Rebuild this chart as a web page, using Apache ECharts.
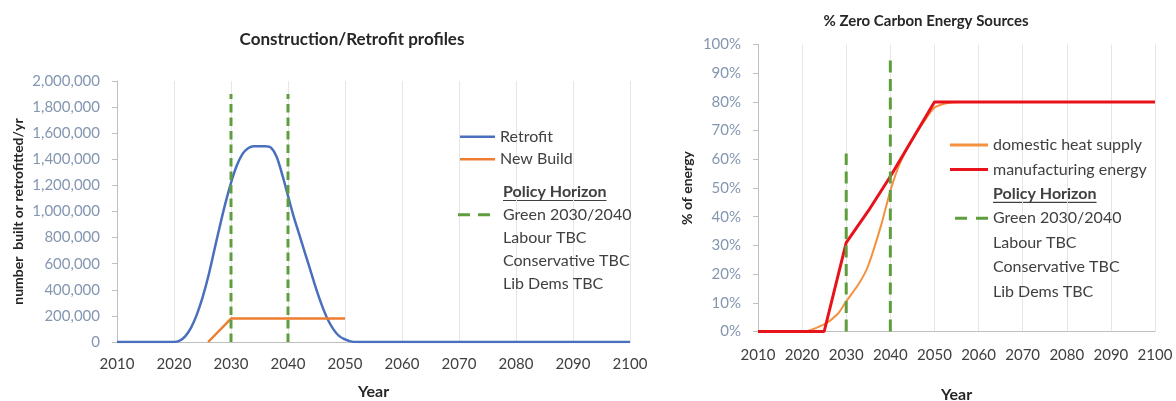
<!DOCTYPE html>
<html>
<head>
<meta charset="utf-8">
<script src="https://cdn.jsdelivr.net/npm/echarts@6/dist/echarts.min.js"></script>
<style>
html,body{margin:0;padding:0;background:#fff;}
#c{width:1176px;height:401px;}
</style>
</head>
<body>
<div id="c"></div>
<script>
// ---------- Left chart data: Construction/Retrofit profiles ----------
const leftTitle = 'Construction/Retrofit profiles';
const leftYName = 'number  built or retrofitted/yr';
const xName = 'Year';
const retrofitYears = [2010, 2020, 2021, 2022, 2023, 2024, 2025, 2026, 2027, 2028, 2029, 2030, 2031, 2032, 2033, 2034, 2035, 2036, 2037, 2038, 2039, 2040, 2041, 2042, 2043, 2044, 2045, 2046, 2047, 2048, 2049, 2050, 2051, 2052, 2100];
const retrofitValues = [0, 0, 10000, 45000, 110000, 210000, 340000, 500000, 690000, 880000, 1060000, 1220000, 1350000, 1440000, 1485000, 1500000, 1500000, 1500000, 1490000, 1420000, 1280000, 1120000, 960000, 820000, 680000, 540000, 400000, 275000, 170000, 95000, 45000, 20000, 5000, 0, 0];
const newBuildYears = [2026, 2030, 2050];
const newBuildValues = [0, 180000, 180000];
const policyYears = [2030, 2040];
const leftPolicyTops = [1900000, 1900000];

// ---------- Right chart data: % Zero Carbon Energy Sources ----------
const rightTitle = '% Zero Carbon Energy Sources';
const rightYName = '% of energy';
const domesticYears = [2010, 2020, 2025, 2028, 2030, 2033, 2035, 2038, 2040, 2042, 2045, 2048, 2050, 2053, 2056, 2100];
const domesticValues = [0, 0, 2.5, 6, 10.5, 17, 23, 37.5, 49, 58, 67, 74, 78, 79.6, 80, 80];
const manufacturingYears = [2010, 2025, 2030, 2035, 2040, 2050, 2100];
const manufacturingValues = [0, 0, 31, 42, 54, 80, 80];
const rightPolicyTops = [62, 96];

// ---------- Legend names ----------
const nameRetrofit = 'Retrofit';
const nameNewBuild = 'New Build';
const nameDomestic = 'domestic heat supply';
const nameManufacturing = 'manufacturing energy';
const nameHeader = 'Policy Horizon';
const nameGreen = 'Green 2030/2040';
const otherParties = ['Labour TBC', 'Conservative TBC', 'Lib Dems TBC'];

// ---------- Styles ----------
const FONT = 'Lato';
const BLUE = '#4a6fbd';
const ORANGE = '#ed7d31';
const GREEN = '#5f9e3f';
const RED = '#e8121a';
const ORANGE2 = '#f4913f';
const YLAB = '#8496b0';
const XLAB = '#404040';
const AXIS = '#bfbfbf';
const GRID = '#e6e6e6';

const pair = (xs, ys) => xs.map((x, i) => [x, ys[i]]);

function measure(text, font) {
  const c = document.createElement('canvas').getContext('2d');
  c.font = font;
  return c.measureText(text).width;
}

const chart = echarts.init(document.getElementById('c'));

function xAxisCfg(gridIndex, gap, labelMargin) {
  return {
    gridIndex, type: 'value', min: 2010, max: 2100, interval: 10,
    name: xName, nameLocation: 'middle', nameGap: gap,
    nameTextStyle: {fontFamily: FONT, fontSize: 16, fontWeight: 'bold', color: '#262626'},
    axisLine: {show: true, lineStyle: {color: AXIS, width: 1}},
    axisTick: {show: false},
    axisLabel: {fontFamily: FONT, fontSize: 15, color: XLAB, margin: labelMargin, formatter: v => String(v)},
    splitLine: {show: true, lineStyle: {color: GRID, width: 1}}
  };
}

function policySeries(xIdx, tops, dash) {
  return policyYears.map((y, i) => ({
    name: nameGreen, type: 'line', xAxisIndex: xIdx, yAxisIndex: xIdx,
    data: [[y, 0], [y, tops[i]]], symbol: 'none', silent: true, z: 5,
    lineStyle: {color: GREEN, width: 3, type: dash}, itemStyle: {color: GREEN}
  }));
}

const emptySeries = [nameHeader].concat(otherParties).map(n => ({
  name: n, type: 'line', xAxisIndex: 0, yAxisIndex: 0, data: [], symbol: 'none',
  itemStyle: {color: '#404040'}
}));

const dashIconLeft = 'path://M0,0h12v3h-12zM20,0h12v3h-12zM39.9,0h0.1v0.1h-0.1z';
const dashIconRight = 'path://M0,0h0.1v0.1h-0.1zM5,0h12v3h-12zM26,0h12v3h-12z';

const legendText = {fontFamily: FONT, fontSize: 16, color: '#404040'};
const partyItems = otherParties.map(n => ({name: n, icon: 'none'}));

const ulW = measure(nameHeader, 'bold 16px ' + FONT);

const option = {
  backgroundColor: '#ffffff',
  animation: false,
  title: [
    {text: leftTitle, left: 352, top: 31, textAlign: 'center', padding: 0,
     textStyle: {fontFamily: FONT, fontSize: 17, fontWeight: 'bold', color: '#262626'}},
    {text: rightTitle, left: 926, top: 14, textAlign: 'center', padding: 0,
     textStyle: {fontFamily: FONT, fontSize: 15, fontWeight: 'bold', color: '#262626'}}
  ],
  grid: [
    {left: 117, top: 81, width: 513, height: 261, containLabel: false, outerBoundsMode: 'none'},
    {left: 758, top: 44.5, width: 397, height: 287, containLabel: false, outerBoundsMode: 'none'}
  ],
  xAxis: [xAxisCfg(0, 42, 15), xAxisCfg(1, 55, 16)],
  yAxis: [
    {gridIndex: 0, type: 'value', min: 0, max: 2000000, interval: 200000,
     name: leftYName, nameLocation: 'middle', nameGap: 92, nameRotate: 90,
     nameTextStyle: {fontFamily: FONT, fontSize: 14, fontWeight: 'bold', color: '#262626'},
     axisLine: {show: true, lineStyle: {color: AXIS}},
     axisTick: {show: true, length: 5, lineStyle: {color: AXIS}},
     axisLabel: {fontFamily: FONT, fontSize: 15, color: YLAB, margin: 17,
                 formatter: v => v.toLocaleString('en-US')},
     splitLine: {show: false}},
    {gridIndex: 1, type: 'value', min: 0, max: 100, interval: 10,
     name: rightYName, nameLocation: 'middle', nameGap: 64, nameRotate: 90,
     nameTextStyle: {fontFamily: FONT, fontSize: 14, fontWeight: 'bold', color: '#262626'},
     axisLine: {show: true, lineStyle: {color: AXIS}},
     axisTick: {show: true, length: 5, lineStyle: {color: AXIS}},
     axisLabel: {fontFamily: FONT, fontSize: 15, color: YLAB, margin: 17, formatter: '{value}%'},
     splitLine: {show: false}}
  ],
  legend: [
    {orient: 'vertical', left: 460, top: 128.7, padding: 0, itemWidth: 35, itemHeight: 2.5, itemGap: 6.6,
     selectedMode: false, textStyle: legendText,
     data: [{name: nameRetrofit, icon: 'rect'}, {name: nameNewBuild, icon: 'rect'}]},
    {orient: 'vertical', left: 458, top: 183.7, padding: 0, itemWidth: 40, itemHeight: 3, itemGap: 7,
     selectedMode: false, textStyle: legendText,
     data: [{name: nameHeader, icon: 'none', textStyle: {fontWeight: 'bold'}},
            {name: nameGreen, icon: dashIconLeft}].concat(partyItems)},
    {orient: 'vertical', left: 950, top: 137, padding: 0, itemWidth: 38, itemHeight: 3, itemGap: 8.4,
     selectedMode: false, textStyle: legendText,
     data: [{name: nameDomestic, icon: 'rect'}, {name: nameManufacturing, icon: 'rect'},
            {name: nameHeader, icon: 'none', textStyle: {fontWeight: 'bold'}},
            {name: nameGreen, icon: dashIconRight}].concat(partyItems)}
  ],
  series: [
    {name: nameRetrofit, type: 'line', xAxisIndex: 0, yAxisIndex: 0,
     data: pair(retrofitYears, retrofitValues), smooth: 0.35, symbol: 'none',
     lineStyle: {color: BLUE, width: 2.5}, itemStyle: {color: BLUE}},
    {name: nameNewBuild, type: 'line', xAxisIndex: 0, yAxisIndex: 0,
     data: pair(newBuildYears, newBuildValues), symbol: 'none',
     lineStyle: {color: ORANGE, width: 2.5}, itemStyle: {color: ORANGE}},
    ...policySeries(0, leftPolicyTops, [8.5, 5]),
    {name: nameDomestic, type: 'line', xAxisIndex: 1, yAxisIndex: 1,
     data: pair(domesticYears, domesticValues), smooth: 0.25, symbol: 'none',
     lineStyle: {color: ORANGE2, width: 2}, itemStyle: {color: ORANGE2}},
    {name: nameManufacturing, type: 'line', xAxisIndex: 1, yAxisIndex: 1,
     data: pair(manufacturingYears, manufacturingValues), symbol: 'none', z: 3,
     lineStyle: {color: RED, width: 3}, itemStyle: {color: RED}},
    ...policySeries(1, rightPolicyTops, [12, 6.5]),
    ...emptySeries
  ],
  graphic: [
    {type: 'line', silent: true, shape: {x1: 503, y1: 200.5, x2: 503 + ulW, y2: 200.5},
     style: {stroke: '#404040', lineWidth: 1.2}},
    {type: 'line', silent: true, shape: {x1: 993, y1: 202.3, x2: 993 + ulW, y2: 202.3},
     style: {stroke: '#404040', lineWidth: 1.2}}
  ]
};
chart.setOption(option);
</script>
</body>
</html>
